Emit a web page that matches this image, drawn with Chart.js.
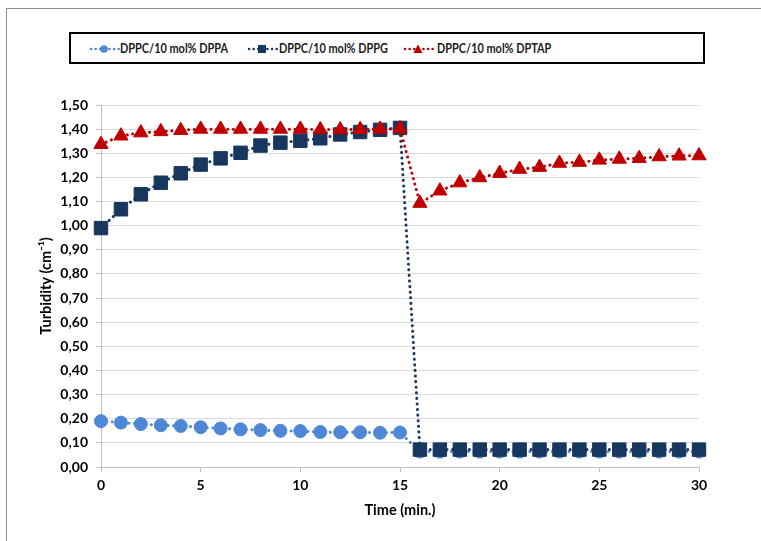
<!DOCTYPE html>
<html>
<head>
<meta charset="utf-8">
<script src="https://cdn.jsdelivr.net/npm/chart.js@4/dist/chart.umd.min.js"></script>
<style>
  body { margin: 0; background: #fff; }
  #wrap { position: relative; width: 761px; height: 541px; overflow: hidden; }
  #frame { position: absolute; left: 6px; top: 8px; right: -2px; bottom: -2px;
           border-top: 1px solid #8c8c8c; border-left: 1px solid #8c8c8c; }
  #trendChart { position: absolute; left: 0; top: 0; }
  #legend { position: absolute; left: 69px; top: 32px; width: 636px; height: 32px;
            box-sizing: border-box; border: 2px solid #000; background: #fff; }
  .item { position: absolute; top: 0; height: 28px; }
  .item svg { position: absolute; top: 7px; left: 0; }
  .item span { position: absolute; top: 5px; white-space: nowrap;
               font: bold 14px Lato, sans-serif; color: #1a1a1a;
               transform: scaleX(0.78); transform-origin: 0 50%; }
</style>
</head>
<body>
<div id="wrap">
  <div id="frame"></div>
  <canvas id="trendChart" width="761" height="541"></canvas>
  <div id="legend"></div>
</div>
<script>
    const times = [0, 1, 2, 3, 4, 5, 6, 7, 8, 9, 10, 11, 12, 13, 14, 15,
      16, 17, 18, 19, 20, 21, 22, 23, 24, 25, 26, 27, 28, 29, 30];

    const dppa = [0.190, 0.184, 0.178, 0.173, 0.170, 0.165, 0.160, 0.156, 0.153, 0.150, 0.149,
      0.145, 0.144, 0.144, 0.142, 0.143,
      0.064, 0.064, 0.064, 0.064, 0.064, 0.064, 0.064, 0.064, 0.064, 0.064, 0.064, 0.064, 0.064, 0.064, 0.064];

    const dppg = [0.990, 1.068, 1.130, 1.178, 1.217, 1.253, 1.279, 1.302, 1.332, 1.344, 1.352,
      1.362, 1.378, 1.388, 1.397, 1.405,
      0.072, 0.072, 0.072, 0.072, 0.072, 0.072, 0.072, 0.072, 0.072, 0.072, 0.072, 0.072, 0.072, 0.072, 0.072];

    const dptap = [1.337, 1.372, 1.385, 1.390, 1.395, 1.400, 1.400, 1.400, 1.400, 1.400, 1.400,
      1.398, 1.398, 1.399, 1.400, 1.402,
      1.093, 1.144, 1.178, 1.199, 1.217, 1.234, 1.242, 1.259, 1.263, 1.272, 1.276, 1.279, 1.286, 1.289, 1.290];

    const seriesNames = ['DPPC/10 mol% DPPA', 'DPPC/10 mol% DPPG', 'DPPC/10 mol% DPTAP'];
    const xTitle = 'Time (min.)';
    const yTitle = 'Turbidity (cm\u207B\u00B9)';

    const colors = ['#4f87d8', '#17375e', '#c00000'];
    const tickFont = { family: 'Lato, sans-serif', size: 14, weight: 'bold' };
    const titleFont = { family: 'Lato, sans-serif', size: 14.5, weight: 'bold' };

    function toPoints(values) {
      return times.map((t, i) => ({ x: t, y: values[i] }));
    }

    function makeDataset(i, values, style, radius, order) {
      return {
        label: seriesNames[i],
        data: toPoints(values),
        borderColor: colors[i],
        backgroundColor: colors[i],
        pointBackgroundColor: colors[i],
        pointBorderColor: colors[i],
        pointBorderWidth: 1,
        borderWidth: 3,
        borderDash: [0.1, 5.5],
        borderCapStyle: 'round',
        pointStyle: style,
        pointRadius: radius,
        pointHoverRadius: radius,
        tension: 0,
        clip: false,
        order
      };
    }

    const ctx = document.getElementById('trendChart').getContext('2d');
    const chart = new Chart(ctx, {
      type: 'line',
      data: {
        datasets: [
          makeDataset(0, dppa, 'circle', 6.5, 3),
          makeDataset(1, dppg, 'rect', 9.5, 2),
          makeDataset(2, dptap, 'triangle', 8.2, 1)
        ]
      },
      options: {
        responsive: false,
        animation: false,
        layout: { padding: { top: 105, right: 62, bottom: 0, left: 0 } },
        plugins: { legend: { display: false }, tooltip: { enabled: false } },
        scales: {
          x: {
            type: 'linear',
            min: 0,
            max: 30,
            afterFit: s => { s.height = 74; },
            ticks: { stepSize: 5, color: '#000', font: tickFont, padding: 5, maxRotation: 0 },
            grid: { drawOnChartArea: false, drawTicks: true, tickLength: 5, color: '#bfbfbf' },
            border: { color: '#bfbfbf' },
            title: { display: true, text: xTitle, color: '#000', font: titleFont, padding: { top: 0, bottom: 22 } }
          },
          y: {
            min: 0,
            max: 1.5,
            afterFit: s => { s.width = 101; },
            ticks: {
              stepSize: 0.1,
              color: '#000',
              font: tickFont,
              padding: 8,
              callback: v => v.toFixed(2).replace('.', ',')
            },
            grid: { color: '#d9d9d9', tickLength: 5, tickColor: '#bfbfbf' },
            border: { color: '#bfbfbf' },
            title: { display: true, text: yTitle, color: '#000', font: titleFont, padding: { top: 38, bottom: 0 } }
          }
        }
      }
    });

    // legend drawn as html so it can carry the boxed Excel look
    const legendItems = [
      { left: 18, text: 49, marker: 'circle' },
      { left: 176, text: 208, marker: 'rect' },
      { left: 332, text: 366, marker: 'triangle' }
    ];

    function markerSvg(kind, color) {
      let shape = '';
      if (kind === 'circle') shape = `<circle cx="15" cy="8" r="3.8" fill="${color}"/>`;
      if (kind === 'rect') shape = `<rect x="11" y="4" width="8" height="8" fill="${color}"/>`;
      if (kind === 'triangle') shape = `<polygon points="15,3.5 19.5,12 10.5,12" fill="${color}"/>`;
      return `<svg width="32" height="16" viewBox="0 0 32 16">
        <line x1="2" y1="8" x2="30" y2="8" stroke="${color}" stroke-width="2.5"
          stroke-dasharray="0.1 4.5" stroke-linecap="round"/>${shape}</svg>`;
    }

    const legend = document.getElementById('legend');
    legendItems.forEach((item, i) => {
      const el = document.createElement('div');
      el.className = 'item';
      el.style.left = item.left + 'px';
      el.innerHTML = markerSvg(item.marker, colors[i]) +
        `<span style="left:${item.text - item.left}px"></span>`;
      el.querySelector('span').textContent = seriesNames[i];
      legend.appendChild(el);
    });
</script>
</body>
</html>
